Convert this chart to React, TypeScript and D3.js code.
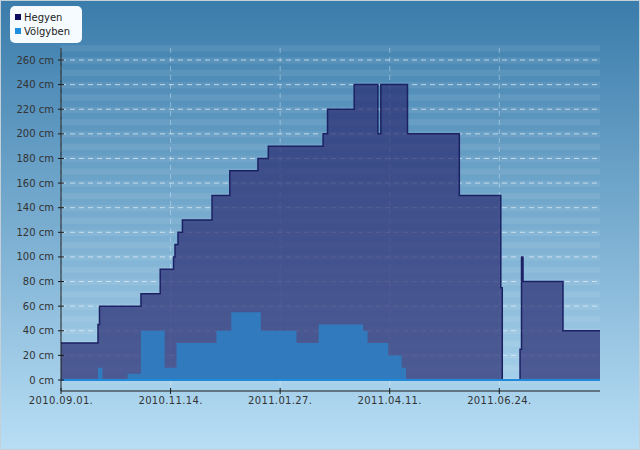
import React, { useEffect } from "react";
import * as d3 from "d3";

const hegyenDates = ["2010-09-01","2010-09-26","2010-09-27","2010-10-25","2010-11-07","2010-11-16","2010-11-17","2010-11-19","2010-11-22","2010-12-12","2010-12-24","2011-01-12","2011-01-19","2011-02-25","2011-02-28","2011-03-18","2011-04-03","2011-04-05","2011-04-23","2011-05-28","2011-06-25","2011-06-26","2011-07-08","2011-07-09","2011-07-10","2011-08-06","2011-08-31"];
const hegyenValues = [30,45,60,70,90,100,110,120,130,150,170,180,190,200,220,240,200,240,200,150,75,0,25,100,80,40,40];

const volgybenDates = ["2010-09-01","2010-09-26","2010-09-29","2010-10-16","2010-10-25","2010-11-10","2010-11-18","2010-12-15","2010-12-25","2011-01-14","2011-02-07","2011-02-22","2011-03-24","2011-03-27","2011-04-10","2011-04-19","2011-04-22","2011-08-31"];
const volgybenValues = [0,10,0,5,40,10,30,40,55,40,30,45,40,30,20,10,0,0];

const tickDates = ["2010-09-01","2010-11-14","2011-01-27","2011-04-11","2011-06-24"];
const yTicks = [0,20,40,60,80,100,120,140,160,180,200,220,240,260];
const seriesNames = ["Hegyen","Völgyben"];

const W = 640, H = 450;
const L = 61, R = 600, TOP = 48, BOT = 391;

export default function App() {
  useEffect(() => { document.body.style.margin = "0"; }, []);
  const parse = d3.utcParse("%Y-%m-%d");
  const x = d3.scaleUtc().domain([parse("2010-09-01")!, parse("2011-08-31")!]).range([L, R]);
  const y = d3.scaleLinear().domain([0, 260]).range([380, 60]);
  const fmt = d3.utcFormat("%Y.%m.%d.");
  const heg = hegyenDates.map((d, i) => ({ d: parse(d)!, v: hegyenValues[i] }));
  const vol = volgybenDates.map((d, i) => ({ d: parse(d)!, v: volgybenValues[i] }));
  const area = d3.area<{ d: Date; v: number }>().x(p => x(p.d)).y0(y(0)).y1(p => y(p.v)).curve(d3.curveStepAfter);
  const line = d3.line<{ d: Date; v: number }>().x(p => x(p.d)).y(p => y(p.v)).curve(d3.curveStepAfter);
  const bands: number[] = [];
  for (let v = -5; v < 270; v += 10) bands.push(v);
  const font = "DejaVu Sans, sans-serif";
  return (
    <svg width={W} height={H} style={{ position: "fixed", left: 0, top: 0, display: "block" }}>
      <defs>
        <linearGradient id="bg" x1="0" y1="0" x2="0" y2="1">
          <stop offset="0" stopColor="#3a7cab" />
          <stop offset="1" stopColor="#b8def5" />
        </linearGradient>
      </defs>
      <rect x={0.5} y={0.5} width={W - 1} height={H - 1} fill="url(#bg)" stroke="#c4d0d8" />
      {bands.map(v => (
        <rect key={v} x={L} width={R - L} y={y(v + 7)} height={y(v + 2) - y(v + 7)} fill="#ffffff" opacity={0.08} />
      ))}
      {yTicks.map(t => (
        <line key={t} x1={L} x2={R} y1={y(t)} y2={y(t)} stroke="#e4f2fb" strokeOpacity={0.7} strokeDasharray="5,4" />
      ))}
      {tickDates.map(t => (
        <line key={t} x1={x(parse(t)!)} x2={x(parse(t)!)} y1={TOP} y2={BOT} stroke="#e4f2fb" strokeOpacity={0.4} strokeDasharray="5,4" />
      ))}
      <path d={area(heg)!} fill="#2a2d72" fillOpacity={0.72} />
      <path d={line(heg)!} fill="none" stroke="#1b2164" strokeWidth={1.5} />
      <path d={area(vol)!} fill="#2f7cc0" fillOpacity={0.95} />
      <line x1={L} x2={R} y1={y(0)} y2={y(0)} stroke="#1e8ad8" strokeWidth={2} />
      <line x1={L} x2={L} y1={TOP} y2={BOT} stroke="#1a1a1a" />
      <line x1={L} x2={R} y1={BOT} y2={BOT} stroke="#1a1a1a" />
      {yTicks.map(t => (
        <g key={t}>
          <line x1={L - 3} x2={L + 3} y1={y(t)} y2={y(t)} stroke="#1a1a1a" />
          <text x={54} y={y(t)} dy="0.35em" textAnchor="end" fontFamily={font} fontSize={10} fill="#333">{t} cm</text>
        </g>
      ))}
      {tickDates.map(t => (
        <g key={t}>
          <line x1={x(parse(t)!)} x2={x(parse(t)!)} y1={BOT - 3} y2={BOT + 3} stroke="#1a1a1a" />
          <text x={x(parse(t)!)} y={404} textAnchor="middle" fontFamily={font} fontSize={10} letterSpacing={0.35} fill="#333">{fmt(parse(t)!)}</text>
        </g>
      ))}
      <rect x={10} y={6} width={72} height={37} rx={5} fill="#f6fbff" />
      <rect x={15} y={14} width={6} height={6} fill="#0c0c5e" />
      <text x={24} y={17} dy="0.35em" fontFamily={font} fontSize={10} fill="#222">{seriesNames[0]}</text>
      <rect x={15} y={28} width={6} height={6} fill="#1e8fdc" />
      <text x={24} y={31} dy="0.35em" fontFamily={font} fontSize={10} fill="#222">{seriesNames[1]}</text>
    </svg>
  );
}
